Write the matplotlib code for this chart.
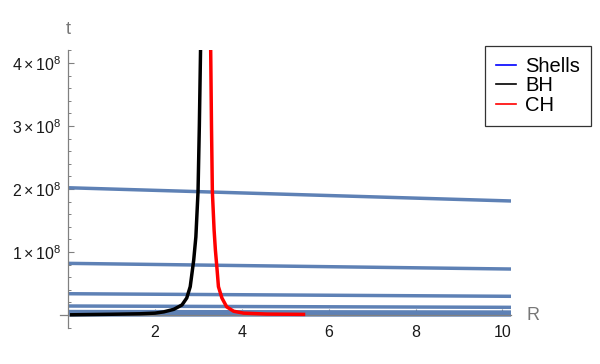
import matplotlib
matplotlib.use("Agg")
import matplotlib.pyplot as plt
from matplotlib.ticker import MultipleLocator, FixedLocator
from matplotlib.lines import Line2D

plt.rcParams['font.family'] = ['Liberation Sans', 'DejaVu Sans']
plt.rcParams['mathtext.fontset'] = 'custom'
plt.rcParams['mathtext.rm'] = 'Liberation Sans'
plt.rcParams['mathtext.it'] = 'Liberation Sans:italic'

# Shells: t at R=0 and at R=10.2 (units of 1e8)
shell_R = [0.0, 10.2]
shell_t_start = [2.02, 0.82, 0.338, 0.143, 0.055, 0.022, 0.009, 0.0035]
shell_t_end = [1.81, 0.73, 0.297, 0.122, 0.047, 0.019, 0.008, 0.003]

# Black hole horizon curve
BH_R = [0.08, 1.0, 1.66, 2.0, 2.2, 2.43, 2.62, 2.73, 2.81, 2.85, 2.89, 2.94, 2.99, 3.02, 3.05]
BH_t = [0.004, 0.012, 0.02, 0.03, 0.05, 0.09, 0.16, 0.27, 0.45, 0.66, 0.87, 1.24, 1.96, 3.0, 4.3]

# Cosmological horizon curve
CH_R = [3.28, 3.30, 3.32, 3.36, 3.39, 3.43, 3.46, 3.54, 3.65, 3.81, 4.04, 4.58, 5.42]
CH_t = [4.3, 3.0, 1.96, 1.35, 1.03, 0.71, 0.45, 0.27, 0.13, 0.06, 0.03, 0.015, 0.01]

scale = 1e8
x_ticks = [2, 4, 6, 8, 10]
y_ticks = [1, 2, 3, 4]
y_tick_labels = [r'$\mathregular{%d\times10^{8}}$' % v for v in y_ticks]
legend_labels = ['Shells', 'BH', 'CH']

fig = plt.figure(figsize=(6, 3.64), dpi=100)
ax = fig.add_axes([60/600, 1-328/364, (511-60)/600, (328-50.4)/364])

shell_color = '#5E81B5'
for a, b in zip(shell_t_start, shell_t_end):
    ax.plot(shell_R, [a*scale, b*scale], color=shell_color, lw=2.5, solid_capstyle='butt', zorder=2)
ax.plot(BH_R, [v*scale for v in BH_t], color='black', lw=2.5, zorder=3)
ax.plot(CH_R, [v*scale for v in CH_t], color='red', lw=2.5, zorder=3)

ax.set_xlim(-0.19, 10.2)
ax.set_ylim(-0.206e8, 4.2e8)

for s in ['top', 'right']:
    ax.spines[s].set_visible(False)
ax.spines['left'].set_position(('data', 0))
ax.spines['bottom'].set_position(('data', 0))
axis_gray = '#808080'
for s in ['left', 'bottom']:
    ax.spines[s].set_color(axis_gray)
    ax.spines[s].set_linewidth(0.9)

ax.xaxis.set_major_locator(FixedLocator(x_ticks))
ax.xaxis.set_minor_locator(MultipleLocator(0.5))
ax.yaxis.set_major_locator(FixedLocator([v*scale for v in y_ticks]))
ax.yaxis.set_minor_locator(MultipleLocator(0.2e8))
ax.set_xticklabels([str(v) for v in x_ticks])
ax.set_yticklabels(y_tick_labels)

ax.tick_params(axis='both', which='both', direction='in', color=axis_gray, labelsize=11.5, labelcolor='#1a1a1a')
ax.tick_params(axis='both', which='major', length=4.5, width=0.8)
ax.tick_params(axis='both', which='minor', length=2.5, width=0.7)
ax.tick_params(axis='x', pad=7)
ax.tick_params(axis='y', pad=5)

fig.text(68/600, 1-30/364, 't', color='#777777', fontsize=13, ha='center', va='center')
fig.text(533/600, 1-316/364, 'R', color='#777777', fontsize=13, ha='center', va='center')

handles = [Line2D([], [], color='blue', lw=1.2),
           Line2D([], [], color='black', lw=1.2),
           Line2D([], [], color='red', lw=1.2)]
leg = fig.legend(handles, legend_labels, loc='upper left', bbox_to_anchor=(485/600, 1-46/364),
                 fontsize=14.5, frameon=True, fancybox=False, handlelength=1.0,
                 handletextpad=0.45, labelspacing=0.02, borderpad=0.55, borderaxespad=0)
leg.get_frame().set_edgecolor('black')
leg.get_frame().set_linewidth(0.9)

fig.savefig('out.png', dpi=100)
